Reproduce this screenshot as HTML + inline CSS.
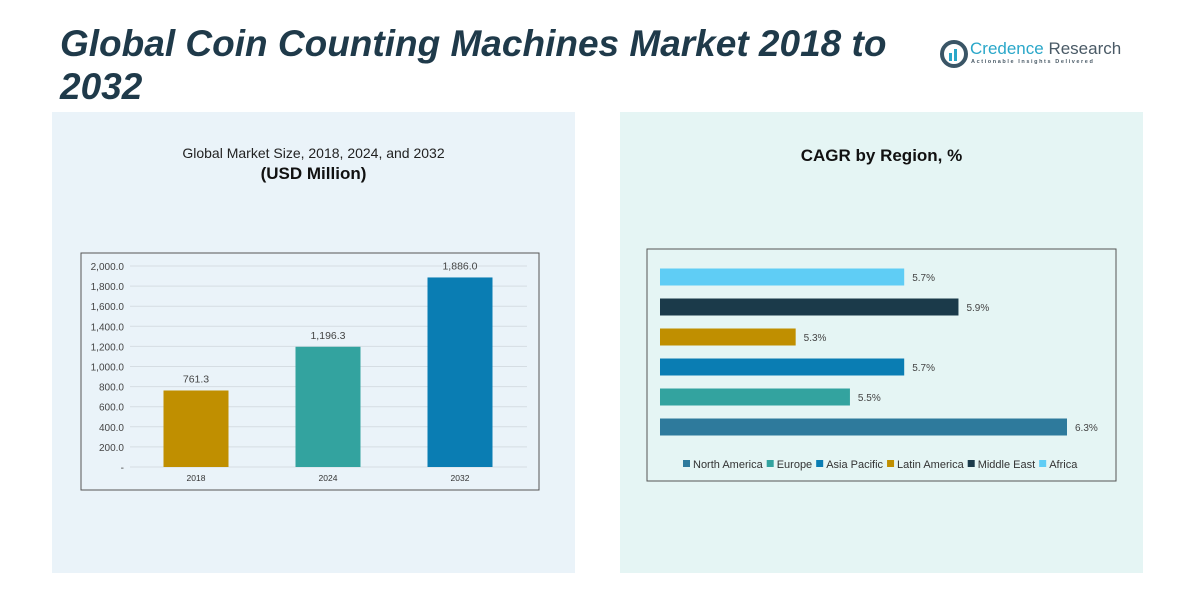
<!DOCTYPE html>
<html><head><meta charset="utf-8"><style>
body{margin:0;width:1177px;height:595px;background:#fff;font-family:"Liberation Sans",sans-serif;position:relative;overflow:hidden}
.abs{position:absolute}
</style></head><body>
<div class="abs" style="left:60px;top:22px;width:860px;font-size:37px;font-weight:bold;font-style:italic;color:#1f3a4a;line-height:43px">Global Coin Counting Machines Market 2018 to 2032</div>
<div class="abs" style="left:940px;top:38px;width:190px;height:32px">
<svg width="30" height="30" style="position:absolute;left:0;top:2px"><circle cx="14" cy="14" r="12" fill="none" stroke="#3a5566" stroke-width="4"/><rect x="9" y="13" width="3" height="8" fill="#2aa7c9"/><rect x="14" y="9" width="3" height="12" fill="#2aa7c9"/></svg>
<div class="abs" style="left:30px;top:1px;font-size:17px;color:#2aa7c9">Credence <span style="color:#4a5a66">Research</span></div>
<div class="abs" style="left:31px;top:21px;font-size:5.5px;letter-spacing:1.6px;color:#4a5a66;font-weight:bold">Actionable Insights Delivered</div></div>
<div class="abs" style="left:52px;top:112px;width:523px;height:461px;background:#eaf3f9"></div>
<div class="abs" style="left:620px;top:112px;width:523px;height:461px;background:#e5f5f4"></div>
<div class="abs" style="left:52px;top:145px;width:523px;text-align:center;font-size:14px;color:#222">Global Market Size, 2018, 2024, and 2032</div>
<div class="abs" style="left:52px;top:164px;width:523px;text-align:center;font-size:17px;font-weight:bold;color:#111">(USD Million)</div>
<div class="abs" style="left:620px;top:146px;width:523px;text-align:center;font-size:17px;font-weight:bold;color:#111">CAGR by Region, %</div>
<svg class="abs" style="left:0;top:0" width="1177" height="595" id="c">
<rect x="81" y="253" width="458" height="237" fill="none" stroke="#555" stroke-width="1"/>
<rect x="647" y="249" width="469" height="232" fill="none" stroke="#555" stroke-width="1"/>
</svg>
<script>
const years=["2018","2024","2032"];
const sizes=[761.3,1196.3,1886.0];
const sizeLabels=["761.3","1,196.3","1,886.0"];
const yTicks=[0,200,400,600,800,1000,1200,1400,1600,1800,2000];
const regions=["North America","Europe","Asia Pacific","Latin America","Middle East","Africa"];
const cagr=[6.3,5.5,5.7,5.3,5.9,5.7];
const colors=["#2e7a9c","#33a39f","#0a7db3","#c08f00","#1b3a4a","#5fcdf5"];
const svg=document.getElementById('c');const NS="http://www.w3.org/2000/svg";
function el(t,a,txt){const e=document.createElementNS(NS,t);for(const k in a)e.setAttribute(k,a[k]);if(txt!=null)e.textContent=txt;svg.appendChild(e);return e;}
const y=v=>467-v/2000*201;
const xc=i=>196+i*132;
yTicks.forEach(t=>{const g=el('line',{x1:130,x2:527,y1:y(t),y2:y(t),stroke:'#d5dde3'});


const l=el('text',{x:124,y:y(t)+4,'text-anchor':'end','font-size':10,fill:'#444'},t===0?'-':t.toLocaleString('en-US',{minimumFractionDigits:1}));

});
const bc=["#c08f00","#33a39f","#0a7db3"];
years.forEach((yr,i)=>{const b=el('rect',{x:xc(i)-32.5,y:y(sizes[i]),width:65,height:467-y(sizes[i]),fill:bc[i]});


const v=el('text',{x:xc(i),y:y(sizes[i])-8,'text-anchor':'middle','font-size':10.5,fill:'#444'},sizeLabels[i]);


const xl=el('text',{x:xc(i),y:481,'text-anchor':'middle','font-size':8.5,fill:'#333'},yr);

});
const xr=v=>660+(v-4.8)/(6.3-4.8)*407;
const ry=i=>427-i*30;
regions.forEach((r,i)=>{const b=el('rect',{x:660,y:ry(i)-8.5,width:xr(cagr[i])-660,height:17,fill:colors[i]});


const t=el('text',{x:xr(cagr[i])+8,y:ry(i)+4,'font-size':10,fill:'#444'},cagr[i].toFixed(1)+'%');

});
let lx=683;
regions.forEach((r,i)=>{const s=el('rect',{x:lx,y:460,width:7,height:7,fill:colors[i]});


const t=el('text',{x:lx+10,y:468,'font-size':11,fill:'#333'},r);


lx+=10+t.getComputedTextLength()+4;});
</script>
</body></html>
